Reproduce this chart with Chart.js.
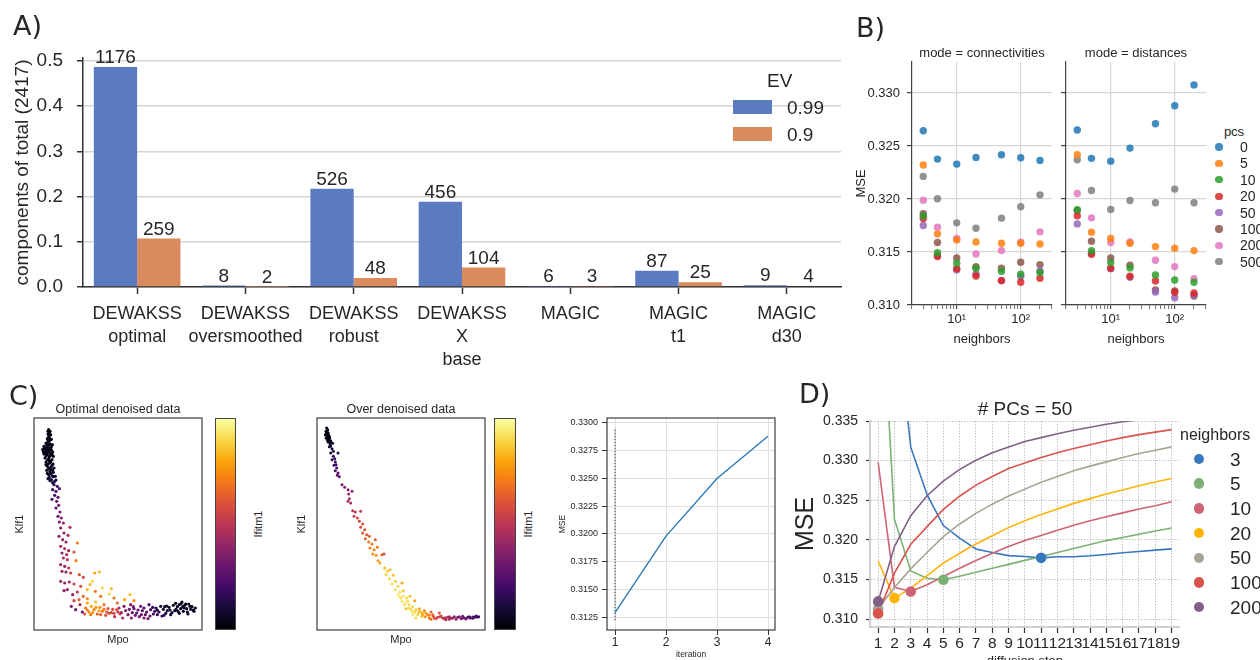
<!DOCTYPE html>
<html>
<head>
<meta charset="utf-8">
<script src="https://cdn.jsdelivr.net/npm/chart.js@4.4.0/dist/chart.umd.min.js"></script>
<style>
  html, body { margin: 0; padding: 0; background: #fff; }
  body { width: 1260px; height: 660px; overflow: hidden; position: relative;
         font-family: "Liberation Sans", Arial, sans-serif; color: #262626; }
  canvas { position: absolute; }
  .t { position: absolute; white-space: nowrap; line-height: 1; }
  .dot { position: absolute; border-radius: 50%; }
  .sw { position: absolute; }
  .cbar { position: absolute; box-sizing: border-box; border: 1px solid #444; }
</style>
</head>
<body>
<script>
/* ---------- A) components per method ---------- */
var methodLabels = [['DEWAKSS', 'optimal'], ['DEWAKSS', 'oversmoothed'], ['DEWAKSS', 'robust'],
                    ['DEWAKSS', 'X', 'base'], 'MAGIC', ['MAGIC', 't1'], ['MAGIC', 'd30']];
var totalComponents = 2417;
var comps099 = [1176, 8, 526, 456, 6, 87, 9];
var comps090 = [259, 2, 48, 104, 3, 25, 4];
var fracTicks = [0, 0.1, 0.2, 0.3, 0.4, 0.5];

/* ---------- B) MSE vs neighbors, rows follow pcsLevels ---------- */
var neighbors = [3, 5, 10, 20, 50, 100, 200];
var pcsLevels = [0, 5, 10, 20, 50, 100, 200, 500];
var mseConnectivities = [
  [0.32644, 0.32376, 0.32329, 0.32392, 0.32417, 0.32389, 0.32364],
  [0.32320, 0.31671, 0.31614, 0.31595, 0.31583, 0.31583, 0.31576],
  [0.31840, 0.31494, 0.31394, 0.31346, 0.31318, 0.31290, 0.31306],
  [0.31816, 0.31457, 0.31343, 0.31274, 0.31230, 0.31214, 0.31252],
  [0.31750, 0.31466, 0.31331, 0.31293, 0.31230, 0.31268, 0.31324],
  [0.31860, 0.31589, 0.31444, 0.31362, 0.31346, 0.31403, 0.31381],
  [0.31989, 0.31734, 0.31627, 0.31482, 0.31513, 0.31592, 0.31690],
  [0.32213, 0.32002, 0.31775, 0.31724, 0.31819, 0.31926, 0.32039]
];
var mseDistances = [
  [0.32650, 0.32383, 0.32357, 0.32480, 0.32710, 0.32880, 0.33076],
  [0.32417, 0.31687, 0.31627, 0.31583, 0.31551, 0.31535, 0.31513],
  [0.31900, 0.31513, 0.31400, 0.31350, 0.31283, 0.31236, 0.31214],
  [0.31841, 0.31479, 0.31346, 0.31271, 0.31227, 0.31120, 0.31113],
  [0.31765, 0.31488, 0.31343, 0.31261, 0.31123, 0.31069, 0.31094],
  [0.31891, 0.31602, 0.31444, 0.31375, 0.31142, 0.31132, 0.31085],
  [0.32052, 0.31822, 0.31589, 0.31595, 0.31422, 0.31362, 0.31249],
  [0.32370, 0.32080, 0.31901, 0.31986, 0.31964, 0.32093, 0.31964]
];
var mseTicks = [0.310, 0.315, 0.320, 0.325, 0.330];
var logTicks = [2, 3, 4, 5, 6, 7, 8, 9, 10, 20, 30, 40, 50, 60, 70, 80, 90, 100, 200, 300];

/* ---------- C) cells [Mpo, Klf1, Ifitm1] ---------- */
var optimalCells = [
  [0.44,6.01,0.02],[0.48,5.96,0.03],[0.42,5.96,0.02],[0.42,5.88,0.03],[0.50,5.86,0.02],[0.46,5.78,0.04],
  [0.40,5.74,0.03],[0.52,5.72,0.02],[0.45,5.66,0.03],[0.36,5.61,0.05],[0.48,5.58,0.02],[0.55,5.56,0.04],
  [0.30,5.51,0.03],[0.40,5.48,0.02],[0.50,5.46,0.03],[0.38,5.44,0.04],[0.26,5.41,0.05],[0.52,5.40,0.02],
  [0.35,5.38,0.03],[0.45,5.36,0.02],[0.56,5.34,0.04],[0.28,5.34,0.03],[0.30,5.28,0.04],[0.40,5.26,0.02],
  [0.50,5.24,0.03],[0.58,5.21,0.05],[0.33,5.16,0.03],[0.44,5.14,0.02],[0.54,5.11,0.04],[0.46,5.08,0.03],
  [0.36,5.04,0.05],[0.47,5.01,0.03],[0.57,4.98,0.04],[0.36,4.96,0.04],[0.40,4.91,0.03],[0.50,4.88,0.05],
  [0.60,4.86,0.06],[0.52,4.81,0.04],[0.38,4.79,0.05],[0.48,4.76,0.04],[0.58,4.73,0.07],[0.44,4.66,0.06],
  [0.54,4.63,0.08],[0.64,4.61,0.10],[0.46,4.58,0.07],[0.42,4.54,0.08],[0.52,4.51,0.10],[0.62,4.46,0.12],
  [0.46,5.92,0.02],[0.44,5.82,0.03],[0.48,5.70,0.02],[0.42,5.68,0.03],[0.38,5.56,0.03],[0.44,5.54,0.02],
  [0.34,5.46,0.04],[0.46,5.44,0.03],[0.32,5.30,0.03],[0.36,5.22,0.04],[0.46,5.20,0.02],[0.54,5.28,0.03],
  [0.40,5.10,0.03],[0.50,5.04,0.04],[0.42,4.98,0.04],[0.54,4.94,0.05],[0.44,4.84,0.05],[0.56,4.80,0.06],
  [0.50,4.70,0.06],[0.40,4.70,0.05],[0.58,4.60,0.09],[0.48,4.48,0.10],[0.56,4.42,0.12],[0.66,4.50,0.10],
  [0.40,5.60,0.03],[0.52,5.50,0.03],[0.30,5.44,0.04],[0.42,5.40,0.02],[0.38,5.32,0.03],[0.48,5.30,0.02],
  [0.60,4.36,0.15],[0.70,4.31,0.20],[0.56,4.21,0.18],[0.66,4.16,0.22],[0.76,4.24,0.25],[0.62,4.04,0.20],
  [0.72,3.98,0.28],[0.54,3.92,0.22],[0.68,3.86,0.30],[0.74,3.74,0.32],[0.66,3.66,0.28],[0.78,3.54,0.35],
  [0.72,3.41,0.30],[0.82,3.36,0.38],[0.76,3.24,0.34],[0.88,3.21,0.40],[1.08,3.08,0.45],
  [0.80,3.06,0.35],[0.90,2.91,0.40],[0.75,2.81,0.38],[1.02,2.84,0.45],[0.86,2.71,0.42],[0.96,2.64,0.40],
  [1.30,2.61,0.70],[0.80,2.51,0.45],[0.92,2.44,0.50],[1.04,2.38,0.42],[0.84,2.31,0.38],[0.98,2.26,0.48],
  [1.20,2.34,0.60],[0.88,2.16,0.45],[1.00,2.11,0.50],[1.26,2.08,0.72],[0.80,1.96,0.45],[0.92,1.91,0.40],
  [1.04,1.86,0.52],[0.84,1.76,0.42],[0.96,1.74,0.38],[1.10,1.71,0.55],[1.36,1.66,0.60],[1.48,1.58,0.55],
  [1.82,1.71,0.80],[1.96,1.74,0.85],[0.80,1.46,0.45],[0.92,1.41,0.40],[1.06,1.44,0.45],[1.20,1.38,0.55],
  [1.00,1.21,0.42],[0.90,1.18,0.38],[1.40,1.31,0.60],[1.75,1.46,0.90],[1.68,1.36,0.85],[1.60,1.21,0.85],
  [1.84,1.16,0.70],[2.05,1.26,0.90],[2.32,1.24,0.85],[2.26,1.08,0.90],[1.16,1.06,0.40],[1.30,1.14,0.50],
  [1.48,1.01,0.65],[1.20,0.88,0.55],[1.35,0.91,0.65],[1.60,0.94,0.75],[2.00,1.01,0.70],[2.40,0.96,0.70],
  [2.88,1.06,0.85],[2.72,0.91,0.80],[3.00,0.88,0.75],[2.50,0.81,0.65],[1.60,0.81,0.80],[1.85,0.84,0.85],
  [2.10,0.76,0.70],
  [1.12,0.71,0.35],[1.25,0.61,0.30],[1.38,0.76,0.50],[1.45,0.54,0.25],[1.55,0.66,0.70],[1.65,0.54,0.75],
  [1.72,0.71,0.80],[1.80,0.61,0.72],[1.90,0.48,0.65],[1.98,0.68,0.75],[2.05,0.56,0.70],[2.15,0.44,0.60],
  [2.22,0.64,0.62],[2.32,0.52,0.55],[2.42,0.40,0.50],[2.48,0.61,0.60],[2.58,0.48,0.55],[2.66,0.36,0.45],
  [2.75,0.58,0.40],[2.82,0.46,0.35],[2.92,0.36,0.40],[3.00,0.64,0.30],[3.08,0.51,0.30],[3.16,0.40,0.35],
  [3.25,0.58,0.25],[3.34,0.46,0.30],[3.42,0.34,0.35],[3.50,0.61,0.20],[3.58,0.48,0.22],[3.66,0.66,0.12],
  [3.75,0.54,0.15],[3.84,0.42,0.20],[3.92,0.70,0.08],[4.00,0.58,0.10],[4.10,0.46,0.12],[4.18,0.74,0.05],
  [4.26,0.62,0.07],[4.36,0.50,0.10],[4.42,0.80,0.04],[4.50,0.66,0.05],[4.60,0.54,0.06],[4.68,0.71,0.05],
  [4.78,0.60,0.04],[4.36,0.76,0.05],[4.55,0.78,0.04],[2.70,0.71,0.35],[2.90,0.76,0.35],[3.20,0.71,0.30],
  [3.45,0.76,0.20],[3.80,0.71,0.10],[4.05,0.68,0.06],[1.70,0.46,0.70],[1.95,0.58,0.80],[2.25,0.50,0.60],
  [2.55,0.66,0.45],[2.95,0.52,0.30],[3.30,0.66,0.25],[3.62,0.56,0.18],[3.95,0.50,0.10],[4.22,0.58,0.06],
  [4.46,0.70,0.04],[4.70,0.62,0.05],[4.84,0.66,0.04],
  [3.70,0.60,0.12],[3.88,0.62,0.08],[3.98,0.72,0.06],[4.08,0.60,0.07],[4.14,0.52,0.10],[4.30,0.70,0.05],
  [4.32,0.56,0.06],[4.40,0.64,0.05],[4.48,0.56,0.06],[4.52,0.74,0.04],[4.58,0.64,0.05],[4.64,0.78,0.04],
  [4.74,0.70,0.04],[4.80,0.56,0.05],[4.62,0.48,0.07],[4.44,0.84,0.04],[4.25,0.80,0.05],[3.90,0.44,0.15],
  [3.70,0.46,0.18],[2.62,0.52,0.40],[2.86,0.62,0.32],[3.04,0.44,0.32],[3.12,0.60,0.28],[3.22,0.46,0.30],
  [3.38,0.54,0.25],[3.48,0.42,0.28],[3.56,0.68,0.18],[2.98,0.70,0.30],[3.30,0.36,0.35],[1.60,0.60,0.72],
  [1.76,0.52,0.78],[1.86,0.68,0.75],[2.00,0.46,0.65],[2.10,0.62,0.70],[2.18,0.54,0.60],[2.36,0.62,0.58],
  [2.40,0.50,0.55],[2.52,0.54,0.50],[1.52,0.48,0.60]
];
var overCells = [
  [0.32,6.06,0.02],[0.35,6.01,0.02],[0.30,5.96,0.02],[0.36,5.92,0.03],[0.28,5.86,0.02],[0.34,5.84,0.03],
  [0.40,5.81,0.04],[0.30,5.76,0.03],[0.38,5.72,0.04],[0.44,5.68,0.05],[0.36,5.64,0.05],[0.42,5.58,0.07],
  [0.50,5.60,0.10],[0.40,5.50,0.08],[0.48,5.44,0.10],[0.66,5.31,0.12],[0.44,5.31,0.12],[0.52,5.21,0.15],
  [0.48,5.11,0.18],[0.58,5.04,0.18],[0.54,4.94,0.20],[0.62,4.86,0.22],[0.58,4.78,0.22],[0.66,4.71,0.25],
  [0.64,4.64,0.25],[0.70,4.60,0.28],[0.78,4.36,0.33],[0.86,4.28,0.35],[0.96,4.21,0.35],[1.08,4.16,0.38],
  [0.98,4.08,0.40],[1.00,3.94,0.42],[0.96,3.86,0.45],[1.04,3.81,0.45],[1.10,3.58,0.50],[1.18,3.54,0.52],
  [1.34,3.56,0.52],[1.14,3.41,0.55],[1.24,3.36,0.55],[1.30,3.26,0.57],[1.40,3.18,0.58],[1.34,3.08,0.60],
  [1.46,3.01,0.60],[1.40,2.91,0.62],[1.52,2.86,0.63],[1.60,2.81,0.65],[1.48,2.74,0.65],[1.58,2.64,0.68],
  [1.68,2.58,0.70],[1.78,2.71,0.62],[1.62,2.46,0.70],[1.74,2.41,0.72],[1.84,2.48,0.70],[1.70,2.28,0.75],
  [1.80,2.24,0.75],[1.98,2.26,0.65],[2.04,2.28,0.60],[1.86,2.08,0.78],[1.92,2.01,0.78],[2.06,1.86,0.85],
  [2.14,1.76,0.88],[2.22,1.81,0.85],[2.10,1.66,0.90],[2.32,1.64,0.85],[2.20,1.54,0.90],[2.38,1.46,0.88],
  [2.28,1.38,0.92],[2.46,1.31,0.90],[2.58,1.41,0.80],[2.38,1.21,0.92],[2.52,1.14,0.92],[2.62,1.18,0.88],
  [2.46,1.06,0.95],[2.62,1.01,0.93],[2.72,0.96,0.90],[2.82,1.01,0.85],[2.96,0.88,0.80],[2.68,0.81,0.95],
  [2.80,0.76,0.92],[2.90,0.70,0.90],[2.70,0.64,0.85],[3.00,0.61,0.85],[2.88,0.56,0.92],[3.10,0.64,0.80],
  [3.18,0.51,0.80],[3.05,0.46,0.90],[3.25,0.58,0.72],[3.35,0.46,0.75],[3.45,0.54,0.65],[3.52,0.41,0.62],
  [3.70,0.51,0.60],[3.65,0.38,0.55],[3.80,0.36,0.50],[3.95,0.38,0.45],[4.10,0.36,0.40],[4.25,0.38,0.35],
  [4.40,0.37,0.30],[4.55,0.38,0.25],[4.70,0.39,0.22],[4.84,0.39,0.20],[3.18,0.41,0.85],[3.40,0.36,0.70],
  [3.60,0.34,0.60],[3.90,0.31,0.50],[4.20,0.32,0.40],[4.50,0.33,0.30],[4.70,0.35,0.25],[2.90,0.46,0.95],
  [3.00,0.36,0.90],[2.78,0.66,0.90],[2.95,0.52,0.92],[3.12,0.56,0.85],[3.30,0.50,0.78],[3.50,0.46,0.65],
  [3.75,0.42,0.55],[4.00,0.40,0.45],[4.30,0.40,0.35],[4.60,0.40,0.25],[4.80,0.42,0.20],[3.28,0.40,0.75],
  [3.85,0.34,0.50],[4.35,0.34,0.33],[2.75,0.86,0.92],[2.55,0.95,0.93],
  [0.33,5.98,0.02],[0.31,5.90,0.02],[0.37,5.88,0.03],[0.33,5.80,0.03],[0.36,5.76,0.03],[0.41,5.76,0.04],
  [0.34,5.70,0.04],[0.40,5.66,0.05],[0.46,5.62,0.06],[0.44,5.52,0.08],[0.52,5.36,0.12],[0.56,5.14,0.16],
  [0.60,4.96,0.20],[3.55,0.36,0.58],[3.72,0.40,0.55],[3.88,0.37,0.48],[4.05,0.35,0.42],[4.15,0.40,0.38],
  [4.40,0.41,0.30],[4.62,0.36,0.24],[4.76,0.38,0.21],[4.88,0.40,0.20],[3.40,0.44,0.72],[3.20,0.46,0.82],
  [3.08,0.52,0.88],[2.98,0.58,0.90],[2.84,0.62,0.92],[2.65,0.75,0.93],[2.58,0.86,0.94],[2.50,1.02,0.95],
  [3.45,0.32,0.68],[4.00,0.32,0.45],[4.45,0.36,0.30]
];
var iterations = [1, 2, 3, 4];
var iterationMSE = [0.3129, 0.3198, 0.3250, 0.3288];
var chosenIterLine = [0.3122, 0.32955];
var iterTicks = [0.3125, 0.3150, 0.3175, 0.3200, 0.3225, 0.3250, 0.3275, 0.3300];

/* ---------- D) diffusion steps, # PCs = 50 ---------- */
var diffSteps = [1, 2, 3, 4, 5, 6, 7, 8, 9, 10, 11, 12, 13, 14, 15, 16, 17, 18, 19];
var neighborSets = ['3', '5', '10', '20', '50', '100', '200'];
var mseNb3   = [0.3900, 0.3510, 0.3317, 0.3257, 0.3218, 0.3202, 0.31885, 0.3184, 0.3180, 0.3179, 0.31772, 0.31786, 0.31786, 0.31798, 0.31815, 0.31836, 0.31853, 0.3187, 0.31886];
var mseNb5   = [0.3600, 0.3226, 0.31606, 0.31514, 0.31495, 0.3154, 0.3159, 0.3164, 0.3169, 0.3174, 0.3179, 0.3184, 0.3189, 0.3194, 0.3199, 0.3203, 0.3207, 0.3211, 0.3215];
var mseNb10  = [0.32977, 0.3140, 0.31347, 0.31432, 0.31537, 0.3164, 0.31738, 0.3183, 0.31914, 0.3199, 0.32053, 0.3212, 0.32183, 0.3224, 0.32292, 0.3234, 0.32388, 0.3243, 0.32481];
var mseNb20  = [0.31732, 0.31264, 0.3139, 0.31549, 0.31705, 0.3183, 0.31948, 0.3205, 0.32154, 0.3224, 0.32321, 0.3239, 0.3246, 0.3252, 0.32577, 0.3263, 0.32682, 0.3273, 0.32774];
var mseNb50  = [0.3113, 0.31398, 0.31633, 0.31839, 0.3204, 0.3220, 0.32334, 0.3245, 0.32552, 0.3264, 0.32728, 0.3280, 0.32871, 0.3293, 0.32984, 0.3304, 0.33089, 0.3313, 0.33173];
var mseNb100 = [0.31071, 0.31579, 0.31944, 0.32166, 0.32384, 0.3255, 0.3269, 0.3280, 0.3290, 0.3297, 0.33039, 0.3310, 0.33152, 0.3320, 0.33248, 0.3329, 0.33328, 0.3336, 0.33391];
var mseNb200 = [0.31222, 0.31914, 0.32305, 0.32556, 0.32741, 0.3289, 0.33005, 0.3310, 0.33173, 0.3324, 0.3329, 0.3334, 0.33383, 0.3342, 0.33458, 0.3349, 0.33515, 0.3354, 0.3356];
var diffTicks = [0.310, 0.315, 0.320, 0.325, 0.330, 0.335];

/* ---------- colours ---------- */
var evColors = ['#5b7bc0', '#d98b5d'];
var pcsColors = ['rgba(31,119,180,0.85)', 'rgba(255,127,14,0.85)', 'rgba(44,160,44,0.85)', 'rgba(214,39,40,0.85)',
                 'rgba(148,103,189,0.85)', 'rgba(140,86,75,0.85)', 'rgba(227,119,194,0.85)', 'rgba(127,127,127,0.85)'];
var nbColors = ['#3778bf', '#7bb274', '#cf6275', '#feb308', '#a8a495', '#d9544d', '#825f87'];
var infernoStops = ['#000004', '#160b39', '#420a68', '#6a176e', '#932667', '#bc3754',
                    '#dd513a', '#f37819', '#fca50a', '#f6d746', '#fcffa4'];

Chart.defaults.font.family = '"Liberation Sans", Arial, sans-serif';
Chart.defaults.color = '#262626';
Chart.defaults.animation = false;
Chart.defaults.events = [];
Chart.defaults.plugins.legend.display = false;
Chart.defaults.plugins.tooltip.enabled = false;

function mkCanvas(left, top, w, h) {
    var c = document.createElement('canvas');
    c.width = w; c.height = h;
    c.style.left = left + 'px'; c.style.top = top + 'px';
    c.style.width = w + 'px'; c.style.height = h + 'px';
    document.body.appendChild(c);
    return c;
}

function addText(str, left, top, size, css) {
    var d = document.createElement('div');
    d.className = 't';
    d.textContent = str;
    d.style.left = left + 'px';
    d.style.top = top + 'px';
    d.style.fontSize = size + 'px';
    if (css) d.style.cssText += css;
    document.body.appendChild(d);
    return d;
}

function addBox(cls, left, top, w, h, bg) {
    var d = document.createElement('div');
    d.className = cls;
    d.style.left = left + 'px'; d.style.top = top + 'px';
    d.style.width = w + 'px'; d.style.height = h + 'px';
    d.style.background = bg;
    document.body.appendChild(d);
}

function hexRgb(h) {
    return [parseInt(h.substr(1, 2), 16), parseInt(h.substr(3, 2), 16), parseInt(h.substr(5, 2), 16)];
}

function inferno(t) {
    t = Math.max(0, Math.min(1, t));
    var n = infernoStops.length - 1;
    var i = Math.min(n - 1, Math.floor(t * n));
    var f = t * n - i;
    var a = hexRgb(infernoStops[i]), b = hexRgb(infernoStops[i + 1]);
    return 'rgb(' + [0, 1, 2].map(function (k) { return Math.round(a[k] + (b[k] - a[k]) * f); }).join(',') + ')';
}

function fixedTicks(list) {
    return function (s) { s.ticks = list.map(function (v) { return { value: v }; }); };
}

// box round the plot area (matplotlib style frame)
var frame = {
    id: 'frame',
    afterDatasetsDraw: function (chart) {
        var a = chart.chartArea, ctx = chart.ctx;
        ctx.save();
        ctx.strokeStyle = '#3c3c3c';
        ctx.lineWidth = 1.2;
        ctx.strokeRect(a.left, a.top, a.right - a.left, a.bottom - a.top);
        ctx.restore();
    }
};

// count printed on top of each bar
var barCounts = {
    id: 'barCounts',
    afterDatasetsDraw: function (chart) {
        var ctx = chart.ctx;
        ctx.save();
        ctx.font = '19px "Liberation Sans", Arial, sans-serif';
        ctx.fillStyle = '#262626';
        ctx.textAlign = 'center';
        ctx.textBaseline = 'alphabetic';
        chart.data.datasets.forEach(function (ds, di) {
            chart.getDatasetMeta(di).data.forEach(function (bar, i) {
                ctx.fillText(String(ds.counts[i]), bar.x, bar.y - 4);
            });
        });
        ctx.restore();
    }
};

/* ====================== A ====================== */
new Chart(mkCanvas(0, 0, 850, 372), {
    type: 'bar',
    data: {
        labels: methodLabels,
        datasets: [
            { label: '0.99', counts: comps099, backgroundColor: evColors[0],
              data: comps099.map(function (n) { return n / totalComponents; }) },
            { label: '0.9', counts: comps090, backgroundColor: evColors[1],
              data: comps090.map(function (n) { return n / totalComponents; }) }
        ]
    },
    options: {
        responsive: false,
        layout: { padding: { top: 58, right: 9, left: 0, bottom: 0 } },
        datasets: { bar: { categoryPercentage: 0.8, barPercentage: 1.0, borderWidth: 0 } },
        scales: {
            x: {
                grid: { drawOnChartArea: false, offset: false, tickLength: 7, tickColor: '#333', tickWidth: 1.5 },
                border: { color: '#333', width: 1.5 },
                ticks: { font: { size: 18, lineHeight: 1.27 }, padding: 9, maxRotation: 0, autoSkip: false },
                afterFit: function (s) { s.height = 85; }
            },
            y: {
                min: 0, max: 0.5066,
                afterBuildTicks: fixedTicks(fracTicks),
                ticks: { font: { size: 19 }, padding: 14, callback: function (v) { return v.toFixed(1); } },
                grid: { color: '#d5d5d5', lineWidth: 1.5, tickColor: '#333', tickLength: 6, tickWidth: 1.5 },
                border: { color: '#333', width: 1.5 },
                title: { display: true, text: 'components of total (' + totalComponents + ')',
                         font: { size: 19 }, padding: { top: 11, bottom: 0 } },
                afterFit: function (s) { s.width = 83; }
            }
        }
    },
    plugins: [barCounts]
});

addText('EV', 767, 70.5, 19);
['0.99', '0.9'].forEach(function (lab, i) {
    addBox('sw', 733, 100 + i * 27, 39, 14, evColors[i]);
    addText(lab, 787, 97.5 + i * 27, 19);
});

/* ====================== B ====================== */
var logLabels = { 10: '10\u00b9', 100: '10\u00b2' };

function facet(left, width, axisW, rows, withLabels) {
    return new Chart(mkCanvas(left, 40, width, 310), {
        type: 'scatter',
        data: {
            datasets: pcsLevels.map(function (p, i) {
                return {
                    label: String(p),
                    data: neighbors.map(function (n, j) { return { x: n, y: rows[i][j] }; }),
                    backgroundColor: pcsColors[i], borderWidth: 0, pointRadius: 3.7
                };
            })
        },
        options: {
            responsive: false,
            layout: { padding: { top: 22, right: 4, left: 0, bottom: 0 } },
            scales: {
                x: {
                    type: 'logarithmic', min: 2, max: 308,
                    afterBuildTicks: fixedTicks(logTicks),
                    ticks: { font: { size: 13 }, padding: 3, maxRotation: 0, autoSkip: false,
                             callback: function (v) { return logLabels[v] || ''; } },
                    grid: {
                        color: function (c) { return c.tick && logLabels[c.tick.value] ? '#d6d6d6' : 'rgba(0,0,0,0)'; },
                        lineWidth: 1.2, tickColor: '#444', tickLength: 4,
                        tickWidth: function (c) { return c.tick && logLabels[c.tick.value] ? 1.2 : 0.8; }
                    },
                    border: { color: '#444', width: 1.2 },
                    title: { display: true, text: 'neighbors', font: { size: 13 }, padding: { top: 0, bottom: 3 } },
                    afterFit: function (s) { s.height = 45; }
                },
                y: {
                    min: 0.310, max: 0.33292,
                    afterBuildTicks: fixedTicks(mseTicks),
                    ticks: { display: withLabels, font: { size: 13 }, padding: 7,
                             callback: function (v) { return v.toFixed(3); } },
                    grid: { color: '#d6d6d6', lineWidth: 1.2, tickColor: '#444', tickLength: 5 },
                    border: { color: '#444', width: 1.2 },
                    title: { display: withLabels, text: 'MSE', font: { size: 13 }, padding: { top: 14, bottom: 0 } },
                    afterFit: function (s) { s.width = axisW; }
                }
            }
        }
    });
}

facet(840, 216, 72, mseConnectivities, true);
facet(1056, 154, 10, mseDistances, false);

addText('mode = connectivities', 982, 46, 13, 'transform:translateX(-50%)');
addText('mode = distances', 1136, 46, 13, 'transform:translateX(-50%)');
addText('pcs', 1234, 124.5, 13, 'transform:translateX(-50%)');
pcsLevels.forEach(function (p, i) {
    var cy = 147 + i * 16.4;
    addBox('dot', 1215.3, cy - 3.7, 7.4, 7.4, pcsColors[i]);
    addText(String(p), 1240, cy - 7, 14);
});

/* ====================== C ====================== */
function cellPlot(left, width, axisW, cells, xmin, xmax, yTitlePad, radius) {
    return new Chart(mkCanvas(left, 395, width, 265), {
        type: 'scatter',
        data: {
            datasets: [{
                data: cells.map(function (c) { return { x: c[0], y: c[1] }; }),
                backgroundColor: cells.map(function (c) { return inferno(c[2]); }),
                borderWidth: 0, pointRadius: radius
            }]
        },
        options: {
            responsive: false,
            layout: { padding: { top: 23, right: 8, left: 0, bottom: 0 } },
            scales: {
                x: {
                    min: xmin, max: xmax,
                    ticks: { display: false }, grid: { display: false }, border: { display: false },
                    title: { display: true, text: 'Mpo', font: { size: 11 }, padding: { top: 0, bottom: 13.5 } },
                    afterFit: function (s) { s.height = 30; }
                },
                y: {
                    min: 0, max: 6.36,
                    ticks: { display: false }, grid: { display: false }, border: { display: false },
                    title: { display: true, text: 'Klf1', font: { size: 11 }, padding: { top: yTitlePad, bottom: 0 } },
                    afterFit: function (s) { s.width = axisW; }
                }
            }
        },
        plugins: [frame]
    });
}

cellPlot(0, 210, 34, optimalCells, 0, 5.04, 12.9, 1.6);
cellPlot(282, 211, 35, overCells, 0.03, 5.07, 13.4, 1.5);

var infernoCss = 'linear-gradient(to top,' + infernoStops.map(function (c, i) {
    return c + ' ' + (i * 10) + '%';
}).join(',') + ')';
addBox('cbar', 215, 418, 21, 212, infernoCss);
addBox('cbar', 494, 418, 22, 212, infernoCss);
addText('Ifitm1', 257.5, 524, 11, 'transform:translate(-50%,-50%) rotate(-90deg)');
addText('Ifitm1', 528, 524, 11, 'transform:translate(-50%,-50%) rotate(-90deg)');
addText('Optimal denoised data', 118, 402.5, 12.5, 'transform:translateX(-50%)');
addText('Over denoised data', 401, 402.5, 12.5, 'transform:translateX(-50%)');

new Chart(mkCanvas(545, 405, 240, 275), {
    type: 'line',
    data: {
        datasets: [
            { data: iterations.map(function (x, i) { return { x: x, y: iterationMSE[i] }; }),
              borderColor: '#2a7ab8', borderWidth: 1.4, pointRadius: 0 },
            { data: chosenIterLine.map(function (y) { return { x: iterations[0], y: y }; }),
              borderColor: '#555', borderWidth: 1.2, borderDash: [1.5, 1.5], pointRadius: 0 }
        ]
    },
    options: {
        responsive: false,
        layout: { padding: { top: 13, right: 10, left: 0, bottom: 0 } },
        scales: {
            x: {
                type: 'linear', min: 0.843, max: 4.137,
                afterBuildTicks: fixedTicks(iterations),
                ticks: { font: { size: 12 }, padding: 0, maxRotation: 0 },
                grid: { color: '#e0e0e0', tickColor: '#333', tickLength: 5 },
                border: { display: false },
                title: { display: true, text: 'iteration', font: { size: 8.5 }, padding: { top: 0, bottom: 20 } },
                afterFit: function (s) { s.height = 50; }
            },
            y: {
                min: 0.31133, max: 0.33045,
                afterBuildTicks: fixedTicks(iterTicks),
                ticks: { font: { size: 9 }, padding: 4, callback: function (v) { return v.toFixed(4); } },
                grid: { color: '#e0e0e0', tickColor: '#333', tickLength: 5 },
                border: { display: false },
                title: { display: true, text: 'MSE', font: { size: 8.5 }, padding: { top: 12.9, bottom: 0 } },
                afterFit: function (s) { s.width = 62; }
            }
        }
    },
    plugins: [frame]
});

/* ====================== D ====================== */
var diffSeries = [mseNb3, mseNb5, mseNb10, mseNb20, mseNb50, mseNb100, mseNb200];
var dDatasets = [];
diffSeries.forEach(function (vals, i) {
    dDatasets.push({
        data: diffSteps.map(function (s, j) { return { x: s, y: vals[j] }; }),
        borderColor: nbColors[i], borderWidth: 1.6, pointRadius: 0, order: 20 - i
    });
});
// marker at each curve's minimum, drawn above every line
diffSeries.forEach(function (vals, i) {
    var best = vals.indexOf(Math.min.apply(null, vals));
    dDatasets.push({
        type: 'scatter',
        data: [{ x: diffSteps[best], y: vals[best] }],
        backgroundColor: nbColors[i], borderWidth: 0, pointRadius: 5.3, order: 10 - i
    });
});

new Chart(mkCanvas(780, 395, 405, 285), {
    type: 'line',
    data: { datasets: dDatasets },
    options: {
        responsive: false,
        layout: { padding: { top: 26, right: 5, left: 0, bottom: 0 } },
        scales: {
            x: {
                type: 'linear', min: 0.5, max: 19.5,
                afterBuildTicks: fixedTicks(diffSteps),
                ticks: { font: { size: 15.5 }, padding: 1, maxRotation: 0, autoSkip: false },
                grid: { color: '#b4b4b4', lineWidth: 0.8, tickColor: '#333', tickLength: 6, tickWidth: 1.2 },
                border: { color: '#cfcfcf', width: 2, dash: [1.5, 1.5] },
                title: { display: true, text: 'diffusion step', font: { size: 13 }, padding: { top: 0, bottom: 11 } },
                afterFit: function (s) { s.height = 53; }
            },
            y: {
                min: 0.30899, max: 0.335,
                afterBuildTicks: fixedTicks(diffTicks),
                ticks: { font: { size: 14 }, padding: 8, callback: function (v) { return v.toFixed(3); } },
                grid: { color: '#b4b4b4', lineWidth: 0.8, tickColor: '#333', tickLength: 4, tickWidth: 1.2 },
                border: { color: '#cfcfcf', width: 2, dash: [1.5, 1.5] },
                title: { display: true, text: 'MSE', font: { size: 25, lineHeight: 1 }, padding: { top: 13.5, bottom: 0 } },
                afterFit: function (s) { s.width = 90; }
            }
        }
    }
});

addText('# PCs = 50', 1025, 398.5, 19, 'transform:translateX(-50%)');
addText('neighbors', 1180, 426.5, 16);
neighborSets.forEach(function (lab, i) {
    var cy = 459 + i * 24.7;
    addBox('dot', 1193.7, cy - 5.3, 10.6, 10.6, nbColors[i]);
    addText(lab, 1230, cy - 9.5, 19);
});

/* ---------- panel letters ---------- */
addText('A)', 13, 12, 27, 'font-family:"DejaVu Sans",sans-serif');
addText('B)', 856, 14, 27, 'font-family:"DejaVu Sans",sans-serif');
addText('C)', 9, 382, 27, 'font-family:"DejaVu Sans",sans-serif');
addText('D)', 799, 380, 27, 'font-family:"DejaVu Sans",sans-serif');
</script>
</body>
</html>
